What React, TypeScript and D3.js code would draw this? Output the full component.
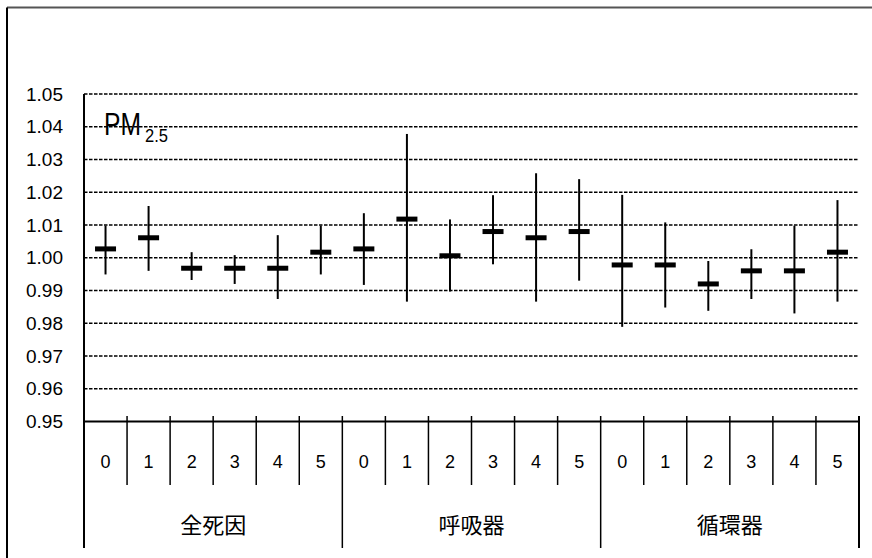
import React from "react";
import * as d3 from "d3";

// Lag days (0–5) repeated for each cause-of-death group
const lags = ["0", "1", "2", "3", "4", "5"];
const groups = ["全死因", "呼吸器", "循環器"];

// Relative risk point estimates, lower and upper 95% CI, in lag order per group
const estimates = [
  1.0027, 1.0061, 0.9968, 0.9968, 0.9968, 1.0017,
  1.0027, 1.0118, 1.0006, 1.008, 1.0061, 1.008,
  0.9978, 0.9978, 0.992, 0.996, 0.996, 1.0017,
];
const lower = [
  0.9949, 0.996, 0.9932, 0.992, 0.9874, 0.9949,
  0.9917, 0.9866, 0.9897, 0.998, 0.9866, 0.993,
  0.9789, 0.9848, 0.9838, 0.9874, 0.983, 0.9866,
];
const upper = [
  1.0098, 1.0158, 1.0017, 1.0008, 1.0069, 1.0098,
  1.0136, 1.0378, 1.0117, 1.0191, 1.0258, 1.024,
  1.0192, 1.0108, 0.999, 1.0026, 1.0098, 1.0176,
];
const yTicks = [0.95, 0.96, 0.97, 0.98, 0.99, 1.0, 1.01, 1.02, 1.03, 1.04, 1.05];

const W = 872;
const H = 558;
const left = 84;
const right = 859;
const top = 94;
const bottom = 421.5;

export default function App() {
  const cats = groups.flatMap((g, gi) => lags.map((l, li) => ({ g, gi, l, i: gi * lags.length + li })));
  const x = d3.scaleBand<number>().domain(cats.map((c) => c.i)).range([left, right]).padding(0);
  const y = d3.scaleLinear().domain([0.95, 1.05]).range([bottom, top]);
  const bw = x.bandwidth();
  const font = "'Liberation Sans', Arial, sans-serif";
  const cjk = "'Noto Sans CJK JP', sans-serif";

  return (
    <svg
      width={W}
      height={H}
      style={{ position: "absolute", left: 0, top: 0, background: "#fff" }}
    >
      {/* outer frame */}
      <line x1={7} x2={W} y1={7.5} y2={7.5} stroke="#555" strokeWidth={2} />
      <line x1={7} x2={7} y1={7.5} y2={H} stroke="#000" strokeWidth={2} />

      {/* gridlines */}
      {yTicks.slice(1).map((t) => (
        <line
          key={t}
          x1={left}
          x2={right}
          y1={y(t)}
          y2={y(t)}
          stroke="#000"
          strokeWidth={1.3}
          strokeDasharray="3.5 1.5"
        />
      ))}

      {/* y tick labels */}
      {yTicks.map((t) => (
        <text
          key={t}
          x={63}
          y={y(t)}
          textAnchor="end"
          dominantBaseline="central"
          fontFamily={font}
          fontSize={19}
          fill="#000"
        >
          {d3.format(".2f")(t)}
        </text>
      ))}

      {/* PM2.5 label with subscript */}
      <text fontFamily={font} fill="#000">
        <tspan x={104} y={135} fontSize={31} textLength={37} lengthAdjust="spacingAndGlyphs">
          PM
        </tspan>
        <tspan x={145} y={141.5} fontSize={19} textLength={23} lengthAdjust="spacingAndGlyphs">
          2.5
        </tspan>
      </text>

      {/* confidence intervals and point estimates */}
      {cats.map((c) => {
        const cx = (x(c.i) as number) + bw / 2;
        return (
          <g key={c.i}>
            <line x1={cx} x2={cx} y1={y(upper[c.i])} y2={y(lower[c.i])} stroke="#000" strokeWidth={2} />
            <rect x={cx - 10.5} y={y(estimates[c.i]) - 2.5} width={21} height={5} fill="#000" />
          </g>
        );
      })}

      {/* axes */}
      <line x1={left} x2={left} y1={top} y2={548} stroke="#000" strokeWidth={2} />
      <line x1={left} x2={right} y1={bottom} y2={bottom} stroke="#000" strokeWidth={2} />

      {/* category separators */}
      {d3.range(1, cats.length + 1).map((k) => {
        const xx = k === cats.length ? right : (x(k) as number);
        const isGroup = k % lags.length === 0;
        return (
          <line
            key={k}
            x1={xx}
            x2={xx}
            y1={416}
            y2={isGroup ? 548 : 485}
            stroke="#000"
            strokeWidth={isGroup && k === cats.length ? 2 : 1.5}
          />
        );
      })}

      {/* lag labels */}
      {cats.map((c) => (
        <text
          key={c.i}
          x={(x(c.i) as number) + bw / 2}
          y={462}
          textAnchor="middle"
          dominantBaseline="central"
          fontFamily={font}
          fontSize={18}
          fill="#000"
        >
          {c.l}
        </text>
      ))}

      {/* group labels */}
      {groups.map((g, gi) => {
        const x0 = x(gi * lags.length) as number;
        const x1 = gi === groups.length - 1 ? right : (x((gi + 1) * lags.length) as number);
        return (
          <text
            key={g}
            x={(x0 + x1) / 2}
            y={523}
            textAnchor="middle"
            dominantBaseline="central"
            fontFamily={cjk}
            fontSize={22}
            fill="#000"
          >
            {g}
          </text>
        );
      })}
    </svg>
  );
}
